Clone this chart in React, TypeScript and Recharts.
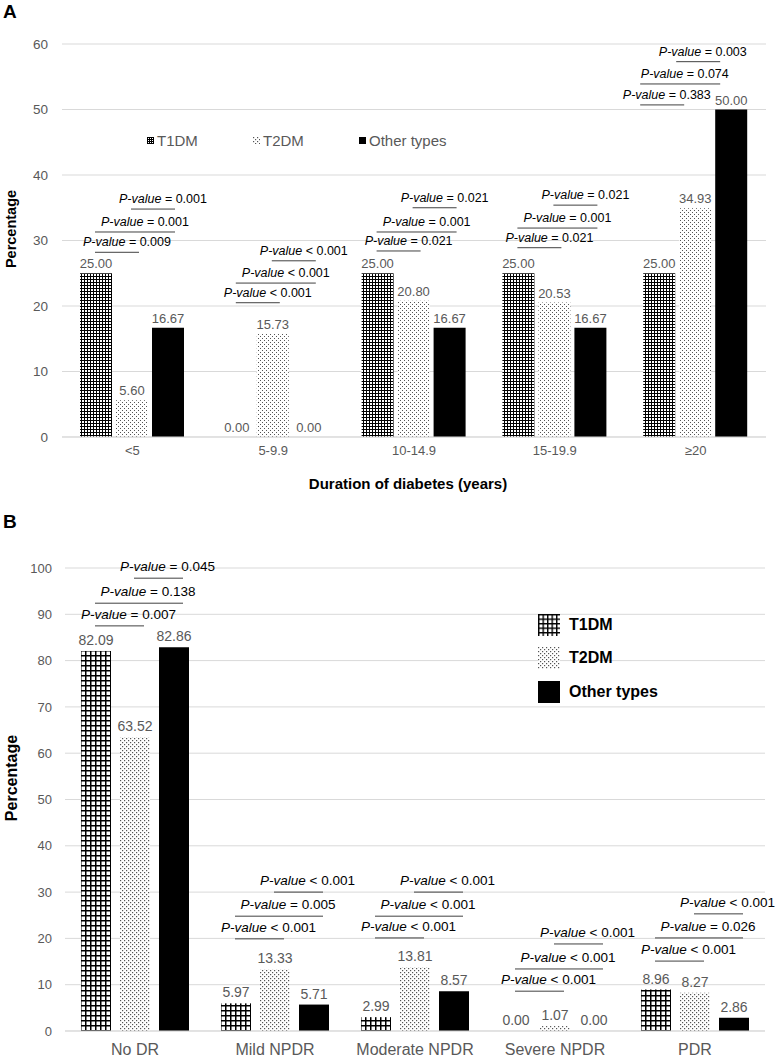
import { Bar, BarChart, CartesianGrid, LabelList, XAxis, YAxis } from 'recharts';

// Panel A: duration of diabetes
const categoriesA = ['<5', '5-9.9', '10-14.9', '15-19.9', '≥20'];
const t1A = [25, 0, 25, 25, 25];
const t2A = [5.6, 15.73, 20.8, 20.53, 34.93];
const otherA = [16.67, 0, 16.67, 16.67, 50];
const pValuesA = [
    ['= 0.009', '= 0.001', '= 0.001'],
    ['< 0.001', '< 0.001', '< 0.001'],
    ['= 0.021', '= 0.001', '= 0.021'],
    ['= 0.021', '= 0.001', '= 0.021'],
    ['= 0.383', '= 0.074', '= 0.003'],
];
const pLevelsA = [
    [28.2, 31.3, 34.8],
    [20.5, 23.5, 26.9],
    [28.4, 31.3, 35.0],
    [28.9, 31.9, 35.4],
    [50.7, 53.9, 57.3],
];

// Panel B: DR grade
const categoriesB = ['No DR', 'Mild NPDR', 'Moderate NPDR', 'Severe NPDR', 'PDR'];
const t1B = [82.09, 5.97, 2.99, 0, 8.96];
const t2B = [63.52, 13.33, 13.81, 1.07, 8.27];
const otherB = [82.86, 5.71, 8.57, 0, 2.86];
const pValuesB = [
    ['= 0.007', '= 0.138', '= 0.045'],
    ['< 0.001', '= 0.005', '< 0.001'],
    ['< 0.001', '< 0.001', '< 0.001'],
    ['< 0.001', '< 0.001', '< 0.001'],
    ['< 0.001', '= 0.026', '< 0.001'],
];
const pLevelsB = [
    [87.5, 92.4, 97.8],
    [19.9, 24.8, 30.0],
    [20.1, 24.8, 30.0],
    [8.6, 13.4, 18.8],
    [15.1, 20.1, 25.3],
];

// which bars each bracket compares: T1-T2, T1-Other, T2-Other
const pairs = [
    [0, 1],
    [0, 2],
    [1, 2],
];

// horizontal nudges (px) of the bracket groups per category, layout only
const nudgeA = [0, 0, 0, 0, -18];
const nudgeB = [0, 0, 0, 0, 0];

const dataA = categoriesA.map((cat, i) => ({ cat, t1: t1A[i], t2: t2A[i], other: otherA[i] }));
const dataB = categoriesB.map((cat, i) => ({ cat, t1: t1B[i], t2: t2B[i], other: otherB[i] }));

const FONT = '"Liberation Sans", Arial, Helvetica, sans-serif';
const GREY = '#595959';

type AnnOpts = {
    levels: number[][];
    texts: string[][];
    nudge: number[];
    left: number[];
    right: number[];
    gap: number;
    fontSize: number;
    labelSize: number;
    labelOffset: number;
    textLift: number;
    textShift: number;
    x2Pad: number;
};

// draws the p-value brackets (and the 0.00 labels of empty neighbours),
// hooked on the T2DM bar which is never 0 so the y scale can be read from it
function makeAnnotator(o: AnnOpts) {
    return (props: any) => {
        const vb = props.viewBox ?? props;
        const { x, y, width, height } = vb;
        const index = props.index;
        const value = Number(props.value);
        if (index == null || !value) return null;
        const base = y + height;
        const k = height / value;
        const cx = x + width / 2;
        const step = width + o.gap;
        const centers = [cx - step, cx, cx + step];
        const zeros = [
            { v: o.left[index], cx: centers[0] },
            { v: o.right[index], cx: centers[2] },
        ].filter((z) => z.v === 0);
        const n = o.nudge[index];
        return (
            <g>
                {zeros.map((z, i) => (
                    <text
                        key={`z${i}`}
                        x={z.cx}
                        y={base - o.labelOffset}
                        textAnchor="middle"
                        fontSize={o.labelSize}
                        fill={GREY}
                    >
                        {z.v.toFixed(2)}
                    </text>
                ))}
                {pairs.map(([a, b], i) => {
                    const ly = base - o.levels[index][i] * k;
                    const x1 = centers[a] - 1 + n;
                    const x2 = centers[b] + o.x2Pad + n;
                    return (
                        <g key={i}>
                            <line x1={x1} x2={x2} y1={ly} y2={ly} stroke="#404040" strokeWidth={1} />
                            <text
                                x={(x1 + x2) / 2 + o.textShift + n * 0.3}
                                y={ly - o.textLift}
                                textAnchor="middle"
                                fontSize={o.fontSize}
                                fill="#000"
                            >
                                <tspan fontStyle="italic">P-value</tspan>
                                {' ' + o.texts[index][i]}
                            </text>
                        </g>
                    );
                })}
            </g>
        );
    };
}

const annotateA = makeAnnotator({
    levels: pLevelsA,
    texts: pValuesA,
    nudge: nudgeA,
    left: t1A,
    right: otherA,
    gap: 4,
    fontSize: 12.5,
    labelSize: 13,
    labelOffset: 5,
    textLift: 6,
    textShift: 10,
    x2Pad: 7,
});

const annotateB = makeAnnotator({
    levels: pLevelsB,
    texts: pValuesB,
    nudge: nudgeB,
    left: t1B,
    right: otherB,
    gap: 9,
    fontSize: 13.5,
    labelSize: 14,
    labelOffset: 6,
    textLift: 7,
    textShift: 9,
    x2Pad: 9,
});

const fmt = (v: any) => Number(v).toFixed(2);

function Patterns({ prefix, cell, line, dot }: { prefix: string; cell: number; line: number; dot: number }) {
    return (
        <defs>
            <pattern id={`${prefix}-grid`} patternUnits="userSpaceOnUse" width={cell} height={cell}>
                <rect width={cell} height={cell} fill="#fff" />
                <rect x={0} y={0} width={line} height={cell} fill="#000" />
                <rect x={0} y={0} width={cell} height={line} fill="#000" />
            </pattern>
            <pattern id={`${prefix}-dots`} patternUnits="userSpaceOnUse" width={4} height={4}>
                <rect width={4} height={4} fill="#fff" />
                <rect x={0} y={0} width={dot} height={dot} fill="#555" />
                <rect x={2} y={2} width={dot} height={dot} fill="#555" />
            </pattern>
        </defs>
    );
}

function Icon({ prefix, kind, size }: { prefix: string; kind: string; size: number }) {
    const cell = size > 10 ? 4.5 : 2;
    const line = size > 10 ? 1.4 : 1;
    return (
        <svg width={size} height={size} style={{ display: 'block' }}>
            <Patterns prefix={prefix} cell={cell} line={line} dot={1.2} />
            <rect
                width={size}
                height={size}
                fill={kind === 'grid' ? `url(#${prefix}-grid)` : kind === 'dots' ? `url(#${prefix}-dots)` : '#000'}
            />
        </svg>
    );
}

const rotated = (cx: number, cy: number, size: number): React.CSSProperties => ({
    position: 'absolute',
    left: cx,
    top: cy,
    transform: 'translate(-50%, -50%) rotate(-90deg)',
    fontWeight: 'bold',
    fontSize: size,
    whiteSpace: 'nowrap',
    lineHeight: 1,
});

export default function App() {
    const legendA = [
        { name: 'T1DM', kind: 'grid', x: 147 },
        { name: 'T2DM', kind: 'dots', x: 253 },
        { name: 'Other types', kind: 'solid', x: 359 },
    ];
    const legendB = [
        { name: 'T1DM', kind: 'grid', y: 614 },
        { name: 'T2DM', kind: 'dots', y: 647 },
        { name: 'Other types', kind: 'solid', y: 681 },
    ];

    return (
        <div
            style={{
                position: 'absolute',
                left: 0,
                top: 0,
                width: 780,
                height: 1060,
                background: '#fff',
                fontFamily: FONT,
                color: '#000',
            }}
        >
            {/* Panel A */}
            <div style={{ position: 'absolute', left: 0, top: 0 }}>
                <BarChart
                    width={780}
                    height={500}
                    data={dataA}
                    margin={{ top: 44, right: 14, left: 0, bottom: 33 }}
                    barSize={32}
                    barGap={4}
                >
                    <Patterns prefix="pa" cell={3} line={1} dot={1} />
                    <CartesianGrid vertical={false} stroke="#d9d9d9" />
                    <XAxis
                        dataKey="cat"
                        height={30}
                        axisLine={{ stroke: '#d9d9d9' }}
                        tickLine={false}
                        tickMargin={3}
                        tick={{ fill: GREY, fontSize: 13 }}
                    />
                    <YAxis
                        width={62}
                        domain={[0, 60]}
                        ticks={[0, 10, 20, 30, 40, 50, 60]}
                        axisLine={false}
                        tickLine={false}
                        tickMargin={8}
                        tick={{ fill: GREY, fontSize: 13.5 }}
                    />
                    <Bar dataKey="t1" fill="url(#pa-grid)" isAnimationActive={false}>
                        <LabelList dataKey="t1" position="top" offset={5} formatter={fmt} fill={GREY} fontSize={13} />
                    </Bar>
                    <Bar dataKey="t2" fill="url(#pa-dots)" isAnimationActive={false}>
                        <LabelList dataKey="t2" position="top" offset={5} formatter={fmt} fill={GREY} fontSize={13} />
                        <LabelList dataKey="t2" content={annotateA} />
                    </Bar>
                    <Bar dataKey="other" fill="#000" isAnimationActive={false}>
                        <LabelList dataKey="other" position="top" offset={5} formatter={fmt} fill={GREY} fontSize={13} />
                    </Bar>
                </BarChart>
            </div>

            <div style={{ position: 'absolute', left: 3, top: 2, fontSize: 19, fontWeight: 'bold', lineHeight: 1 }}>A</div>
            <div style={rotated(11, 229, 14.5)}>Percentage</div>
            <div
                style={{
                    position: 'absolute',
                    left: 208,
                    width: 400,
                    top: 476,
                    textAlign: 'center',
                    fontWeight: 'bold',
                    fontSize: 15,
                    lineHeight: 1,
                }}
            >
                Duration of diabetes (years)
            </div>
            {legendA.map((item) => (
                <div
                    key={item.name}
                    style={{
                        position: 'absolute',
                        left: item.x,
                        top: 131,
                        height: 18,
                        display: 'flex',
                        alignItems: 'center',
                        gap: 3,
                        fontSize: 15,
                        color: GREY,
                        lineHeight: 1,
                    }}
                >
                    <Icon prefix={`la-${item.kind}`} kind={item.kind} size={7} />
                    <span>{item.name}</span>
                </div>
            ))}

            {/* Panel B */}
            <div style={{ position: 'absolute', left: 0, top: 500 }}>
                <BarChart
                    width={780}
                    height={560}
                    data={dataB}
                    margin={{ top: 68, right: 15, left: 0, bottom: 4 }}
                    barSize={30}
                    barGap={9}
                >
                    <Patterns prefix="pb" cell={5} line={1.5} dot={1.2} />
                    <CartesianGrid vertical={false} stroke="#d9d9d9" />
                    <XAxis
                        dataKey="cat"
                        height={25}
                        axisLine={{ stroke: '#d9d9d9' }}
                        tickLine={false}
                        tickMargin={7}
                        tick={{ fill: GREY, fontSize: 16 }}
                    />
                    <YAxis
                        width={65}
                        domain={[0, 100]}
                        ticks={[0, 10, 20, 30, 40, 50, 60, 70, 80, 90, 100]}
                        axisLine={false}
                        tickLine={false}
                        tickMargin={7}
                        tick={{ fill: GREY, fontSize: 13 }}
                    />
                    <Bar dataKey="t1" fill="url(#pb-grid)" isAnimationActive={false}>
                        <LabelList dataKey="t1" position="top" offset={6} formatter={fmt} fill={GREY} fontSize={14} />
                    </Bar>
                    <Bar dataKey="t2" fill="url(#pb-dots)" isAnimationActive={false}>
                        <LabelList dataKey="t2" position="top" offset={6} formatter={fmt} fill={GREY} fontSize={14} />
                        <LabelList dataKey="t2" content={annotateB} />
                    </Bar>
                    <Bar dataKey="other" fill="#000" isAnimationActive={false}>
                        <LabelList dataKey="other" position="top" offset={6} formatter={fmt} fill={GREY} fontSize={14} />
                    </Bar>
                </BarChart>
            </div>

            <div style={{ position: 'absolute', left: 3, top: 512, fontSize: 19, fontWeight: 'bold', lineHeight: 1 }}>B</div>
            <div style={rotated(11.5, 778, 16)}>Percentage</div>
            {legendB.map((item) => (
                <div
                    key={item.name}
                    style={{
                        position: 'absolute',
                        left: 538,
                        top: item.y,
                        height: 22,
                        display: 'flex',
                        alignItems: 'center',
                        gap: 9,
                        fontSize: 16,
                        fontWeight: 'bold',
                        lineHeight: 1,
                    }}
                >
                    <Icon prefix={`lb-${item.kind}`} kind={item.kind} size={22} />
                    <span>{item.name}</span>
                </div>
            ))}
        </div>
    );
}
